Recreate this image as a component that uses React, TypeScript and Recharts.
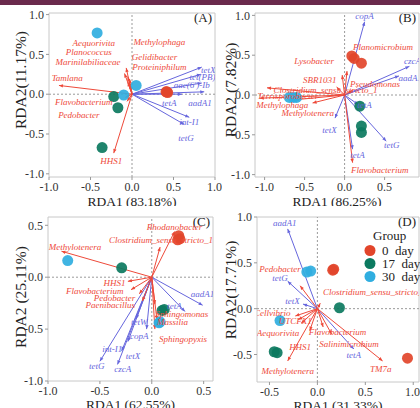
import React from 'react';
import { ScatterChart, Scatter, XAxis, YAxis, ReferenceLine, ReferenceArea, Legend } from 'recharts';

type Row = [string, number, number];
type Pt = { x: number; y: number };

// ---- panel A ----
const aDay0: Pt[] = [{ x: 0.41, y: 0.03 }, { x: 0.43, y: 0.02 }, { x: 0.42, y: 0.03 }];
const aDay17: Pt[] = [{ x: -0.22, y: -0.03 }, { x: -0.17, y: -0.17 }, { x: -0.36, y: -0.67 }];
const aDay30: Pt[] = [{ x: -0.42, y: 0.77 }, { x: -0.1, y: -0.01 }, { x: 0.05, y: 0.11 }];
const aTaxa: Row[] = [
  ['Aequorivita', -0.09, 0.26], ['Planococcus', -0.05, 0.22], ['Marinilabiliaceae', -0.07, 0.33],
  ['Tamlana', -0.88, 0.11], ['Flavobacterium', -0.08, -0.04], ['Pedobacter', -0.06, -0.09],
  ['Methylophaga', -0.03, 0.19], ['Gelidibacter', -0.05, 0.15], ['Proteiniphilum', -0.02, 0.12],
  ['HHS1', -0.22, -0.74],
];
const aTaxaLbl: Row[] = [
  ['Aequorivita', -0.46, 0.64], ['Planococcus', -0.52, 0.53], ['Marinilabiliaceae', -0.53, 0.4],
  ['Tamlana', -0.78, 0.2], ['Flavobacterium', -0.58, -0.1], ['Pedobacter', -0.64, -0.26],
  ['Methylophaga', 0.33, 0.65], ['Gelidibacter', 0.27, 0.47], ['Proteiniphilum', 0.33, 0.34],
  ['HHS1', -0.25, -0.84],
];
const aArgs: Row[] = [
  ['tetX', 0.84, 0.34], ['tet(PB)', 0.83, 0.25], ["aac(6')-Ib", 0.84, 0.14], ['tetA', 0.6, 0.0],
  ['aadA1', 0.87, 0.03], ['int-I1', 0.69, -0.29], ['tetG', 0.63, -0.38],
];
const aArgsLbl: Row[] = [
  ['tetX', 0.92, 0.3], ['tet(PB)', 0.85, 0.21], ["aac(6')-Ib", 0.72, 0.11], ['tetA', 0.45, -0.11],
  ['aadA1', 0.82, -0.11], ['int-I1', 0.69, -0.35], ['tetG', 0.65, -0.55],
];

// ---- panel B ----
const bDay0: Pt[] = [{ x: 0.09, y: 0.49 }, { x: 0.12, y: 0.46 }, { x: 0.21, y: 0.4 }];
const bDay17: Pt[] = [{ x: 0.19, y: -0.14 }, { x: 0.21, y: -0.39 }, { x: 0.21, y: -0.47 }];
const bDay30: Pt[] = [{ x: -0.69, y: -0.03 }, { x: -0.64, y: -0.03 }, { x: -0.6, y: -0.03 }];
const bTaxa: Row[] = [
  ['Planomicrobium', 0.03, 0.3], ['Lysobacter', -0.03, 0.25], ['SBR1031', -0.1, 0.1],
  ['Pseudomonas', 0.1, 0.06], ['Clostridium_sensu_stricto_1', -0.97, 0.09],
  ['Terrisporobacter', -1.06, -0.04], ['Methylophaga', -0.62, -0.06], ['Methylotenera', -0.4, -0.1],
  ['Flavobacterium', 0.1, -0.85],
];
const bTaxaLbl: Row[] = [
  ['Planomicrobium', 0.48, 0.6], ['Lysobacter', -0.38, 0.43], ['SBR1031', -0.31, 0.19],
  ['Pseudomonas', 0.38, 0.14], ['Clostridium_sensu_stricto_1', -0.24, 0.06],
  ['Terrisporobacter', -0.71, -0.01], ['Methylophaga', -0.78, -0.13], ['Methylotenera', -0.46, -0.23],
  ['Flavobacterium', 0.44, -0.94],
];
const bArgs: Row[] = [
  ['copA', 0.25, 0.92], ['czcA', 0.81, 0.36], ['aadA1', 0.68, 0.24], ['tetX', -0.12, -0.29],
  ['tetG', 0.52, -0.58], ['tetA', 0.1, -0.68], ['tetA', 0.17, -0.12],
];
const bArgsLbl: Row[] = [
  ['copA', 0.25, 0.99], ['czcA', 0.85, 0.43], ['aadA1', 0.82, 0.21], ['tetX', -0.19, -0.44],
  ['tetG', 0.59, -0.63], ['tetA', 0.16, -0.75], ['tetA', 0.25, -0.12],
];

// ---- panel C ----
const cDay0: Pt[] = [{ x: 0.26, y: 0.4 }, { x: 0.27, y: 0.37 }, { x: 0.25, y: 0.36 }];
const cDay17: Pt[] = [{ x: -0.29, y: 0.09 }, { x: 0.1, y: -0.32 }, { x: 0.12, y: -0.31 }];
const cDay30: Pt[] = [{ x: -0.81, y: 0.16 }, { x: 0.08, y: -0.43 }, { x: 0.07, y: -0.44 }];
const cTaxa: Row[] = [
  ['Methylotenera', -0.87, 0.25], ['Rhodanobacter', 0.22, 0.44], ['Clostridium_sensu_stricto_1', 0.08, 0.29],
  ['HHS1', -0.23, -0.04], ['Flavobacterium', -0.2, -0.12], ['Pedobacter', -0.12, -0.16],
  ['Paenibacillus', -0.09, -0.23], ['Sphingomonas', 0.03, -0.26], ['Massilia', 0.05, -0.41],
  ['Sphingopyxis', 0.03, -0.5],
];
const cTaxaLbl: Row[] = [
  ['Methylotenera', -0.74, 0.29], ['Rhodanobacter', 0.22, 0.48], ['Clostridium_sensu_stricto_1', 0.09, 0.36],
  ['HHS1', -0.36, -0.06], ['Flavobacterium', -0.55, -0.13], ['Pedobacter', -0.36, -0.2],
  ['Paenibacillus', -0.4, -0.27], ['Sphingomonas', 0.29, -0.35], ['Massilia', 0.2, -0.43],
  ['Sphingopyxis', 0.3, -0.6],
];
const cArgs: Row[] = [
  ['aadA1', 0.49, -0.27], ['tetA', 0.32, -0.33], ['tetW', -0.15, -0.4], ['copA', -0.05, -0.5],
  ['int-I1', -0.23, -0.62], ['tetX', -0.29, -0.71], ['tetG', -0.5, -0.81], ['czcA', -0.33, -0.84],
];
const cArgsLbl: Row[] = [
  ['aadA1', 0.49, -0.16], ['tetA', 0.22, -0.28], ['tetW', -0.12, -0.43], ['copA', -0.12, -0.57],
  ['int-I1', -0.38, -0.69], ['tetX', -0.18, -0.76], ['tetG', -0.53, -0.86], ['czcA', -0.28, -0.88],
];

// ---- panel D ----
const dDay0: Pt[] = [{ x: 0.17, y: 0.43 }, { x: 0.16, y: 0.42 }, { x: 0.94, y: -0.54 }];
const dDay17: Pt[] = [{ x: 0.23, y: 0.01 }, { x: -0.42, y: -0.48 }, { x: -0.45, y: -0.47 }];
const dDay30: Pt[] = [{ x: -0.07, y: 0.41 }, { x: -0.11, y: 0.4 }, { x: -0.39, y: -0.13 }];
const dTaxa: Row[] = [
  ['Pedobacter', -0.18, 0.25], ['Clostridium_sensu_stricto_1', 0.03, 0.06], ['Cellvibrio', -0.23, -0.08],
  ['UTCFX1', -0.2, -0.12], ['Aequorivita', -0.17, -0.16], ['Flavobacterium', 0.06, -0.2],
  ['Salinimicrobium', 0.15, -0.28], ['HHS1', -0.08, -0.24], ['Methylotenera', -0.31, -0.57],
  ['TM7a', 0.68, -0.57],
];
const dTaxaLbl: Row[] = [
  ['Pedobacter', -0.39, 0.43], ['Clostridium_sensu_stricto_1', 0.6, 0.18], ['Cellvibrio', -0.47, -0.05],
  ['UTCFX1', -0.23, -0.13], ['Aequorivita', -0.41, -0.27], ['Flavobacterium', 0.21, -0.25],
  ['Salinimicrobium', 0.33, -0.38], ['HHS1', -0.18, -0.42], ['Methylotenera', -0.31, -0.68],
  ['TM7a', 0.66, -0.66],
];
const dArgs: Row[] = [['aadA1', -0.31, 0.87], ['tetG', -0.31, 0.3], ['tetX', -0.15, 0.05], ['tetA', 0.38, -0.44]];
const dArgsLbl: Row[] = [['aadA1', -0.34, 0.93], ['tetG', -0.39, 0.33], ['tetX', -0.26, 0.08], ['tetA', 0.38, -0.51]];

const groups = ['0 day', '17 day', '30 day'];

const RED = '#ee4a3a';
const BLUE = '#6666dd';
const C0 = '#e2452b';
const C17 = '#0c7a60';
const C30 = '#30aee0';
const FONT = '"Liberation Serif", "Times New Roman", serif';

const toPts = (rows: Row[]) => rows.map(([name, x, y]) => ({ name, x, y }));

const arrowShape = (color: string) => (p: any) => {
  const { x1, y1, x2, y2 } = p;
  const a = Math.atan2(y2 - y1, x2 - x1);
  const L = 4;
  const W = 1.7;
  const bx = x2 - L * Math.cos(a);
  const by = y2 - L * Math.sin(a);
  const pts = `${x2},${y2} ${bx + W * Math.sin(a)},${by - W * Math.cos(a)} ${bx - W * Math.sin(a)},${by + W * Math.cos(a)}`;
  return (
    <g>
      <line x1={x1} y1={y1} x2={x2} y2={y2} stroke={color} strokeWidth={1} />
      <polygon points={pts} fill={color} />
    </g>
  );
};

const textShape = (color: string) => (p: any) => (
  <text x={p.cx} y={p.cy} fill={color} fontSize={9} fontStyle="italic" fontFamily={FONT}
    textAnchor="middle" dominantBaseline="central">{p.payload.name}</text>
);

const dot = (color: string) => (p: any) => <circle cx={p.cx} cy={p.cy} r={5.5} fill={color} fillOpacity={0.92} />;

const GroupLegend = () => (
  <div style={{ fontFamily: FONT, fontSize: 13, color: '#222', lineHeight: '13px' }}>
    <div style={{ marginLeft: 11, marginBottom: 2 }}>Group</div>
    {groups.map((g, i) => (
      <div key={g} style={{ display: 'flex', alignItems: 'center', height: 13 }}>
        <svg width={16} height={13}><circle cx={8} cy={6.5} r={5.5} fill={[C0, C17, C30][i]} /></svg>
        <span style={{ marginLeft: 4, whiteSpace: 'pre' }}>{g.replace(' ', '  ')}</span>
      </div>
    ))}
  </div>
);

interface PanelProps {
  tag: string;
  left: number; top: number; width: number; height: number;
  margin: { top: number; right: number; bottom: number; left: number };
  xAxisH: number;
  xDomain: [number, number]; yDomain: [number, number];
  xTicks: number[]; yTicks: number[];
  xLabel: string; yLabel: string; yLabelY: number; xLabelDy: number;
  day0: Pt[]; day17: Pt[]; day30: Pt[];
  taxa: Row[]; taxaLbl: Row[]; args: Row[]; argsLbl: Row[];
  legend?: boolean;
}

const Panel = (p: PanelProps) => {
  const tickStyle = { fontFamily: FONT, fontSize: 12, fill: '#333' };
  return (
    <div style={{ position: 'absolute', left: p.left, top: p.top }}>
      <ScatterChart width={p.width} height={p.height} margin={p.margin}>
        <XAxis type="number" dataKey="x" domain={p.xDomain} ticks={p.xTicks} allowDataOverflow
          height={p.xAxisH} tickSize={3} tickMargin={2} axisLine={false} stroke="#999" tick={tickStyle}
          tickFormatter={(v: number) => v.toFixed(1)}
          label={{
            content: (lp: any) => (
              <text x={lp.viewBox.x + lp.viewBox.width / 2} y={lp.viewBox.y + p.xLabelDy} textAnchor="middle"
                fontFamily={FONT} fontSize={13.5} fill="#222">{p.xLabel}</text>
            ),
          }} />
        <YAxis type="number" dataKey="y" domain={p.yDomain} ticks={p.yTicks} allowDataOverflow
          width={40} tickSize={3} tickMargin={2} axisLine={false} stroke="#999" tick={tickStyle}
          tickFormatter={(v: number) => v.toFixed(1)}
          label={{
            content: () => (
              <text x={20} y={p.yLabelY} transform={`rotate(-90 20 ${p.yLabelY})`} textAnchor="middle"
                dominantBaseline="central" fontFamily={FONT} fontSize={15.5} fill="#222">{p.yLabel}</text>
            ),
          }} />
        <ReferenceArea x1={p.xDomain[0]} x2={p.xDomain[1]} y1={p.yDomain[0]} y2={p.yDomain[1]}
          fill="none" stroke="#c8c8c8" strokeWidth={1}
          label={{
            content: (lp: any) => (
              <text x={lp.viewBox.x + lp.viewBox.width - 3} y={lp.viewBox.y + 9} textAnchor="end"
                fontFamily={FONT} fontSize={13} fill="#222">{p.tag}</text>
            ),
          }} />
        <ReferenceLine x={0} stroke="#9a9a9a" strokeDasharray="2 2" />
        <ReferenceLine y={0} stroke="#9a9a9a" strokeDasharray="2 2" />
        {p.args.map(([n, x, y], i) => (
          <ReferenceLine key={'b' + i} segment={[{ x: 0, y: 0 }, { x, y }]} ifOverflow="visible" shape={arrowShape(BLUE)} />
        ))}
        {p.taxa.map(([n, x, y], i) => (
          <ReferenceLine key={'r' + i} segment={[{ x: 0, y: 0 }, { x, y }]} ifOverflow="visible" shape={arrowShape(RED)} />
        ))}
        <Scatter name="0 day" data={p.day0} shape={dot(C0)} isAnimationActive={false} />
        <Scatter name="17 day" data={p.day17} shape={dot(C17)} isAnimationActive={false} />
        <Scatter name="30 day" data={p.day30} shape={dot(C30)} isAnimationActive={false} />
        <Scatter data={toPts(p.taxaLbl)} shape={textShape(RED)} isAnimationActive={false} />
        <Scatter data={toPts(p.argsLbl)} shape={textShape(BLUE)} isAnimationActive={false} />
        {p.legend && (
          <Legend layout="vertical" align="center" verticalAlign="middle" content={() => <GroupLegend />}
            wrapperStyle={{ left: 152, top: 25, width: 70 }} />
        )}
      </ScatterChart>
    </div>
  );
};

export default function App() {
  return (
    <div style={{ position: 'absolute', left: 0, top: 0, width: 420, height: 408, background: '#fff', overflow: 'hidden' }}>
      <div style={{ position: 'absolute', left: 0, top: 0, width: 420, height: 5, background: '#6a2a4c' }} />
      <Panel tag="(A)" left={0} top={0} width={222} height={206}
        margin={{ top: 13, right: 7, bottom: 0, left: 9 }} xAxisH={29}
        xDomain={[-1, 1]} yDomain={[-1.04, 1.02]} xTicks={[-1, -0.5, 0, 0.5, 1]} yTicks={[-1, -0.5, 0, 0.5, 1]}
        xLabel="RDA1 (83.18%)" yLabel="RDA2(11.17%)" yLabelY={80} xLabelDy={28.5}
        day0={aDay0} day17={aDay17} day30={aDay30} taxa={aTaxa} taxaLbl={aTaxaLbl} args={aArgs} argsLbl={aArgsLbl} />
      <Panel tag="(B)" left={210} top={0} width={210} height={206}
        margin={{ top: 13, right: 1, bottom: 0, left: 5 }} xAxisH={29}
        xDomain={[-1.12, 0.93]} yDomain={[-1.03, 1.03]} xTicks={[-1, -0.5, 0, 0.5]} yTicks={[-1, -0.5, 0, 0.5, 1]}
        xLabel="RDA1 (86.25%)" yLabel="RDA2 (7.82%)" yLabelY={90} xLabelDy={28.5}
        day0={bDay0} day17={bDay17} day30={bDay30} taxa={bTaxa} taxaLbl={bTaxaLbl} args={bArgs} argsLbl={bArgsLbl} />
      <Panel tag="(C)" left={0} top={204} width={218} height={204}
        margin={{ top: 13, right: 5, bottom: 0, left: 8 }} xAxisH={27}
        xDomain={[-1, 0.59]} yDomain={[-1, 0.58]} xTicks={[-1, -0.5, 0, 0.5]} yTicks={[-1, -0.5, 0, 0.5]}
        xLabel="RDA1 (62.55%)" yLabel="RDA2 (25.11%)" yLabelY={93} xLabelDy={27.5}
        day0={cDay0} day17={cDay17} day30={cDay30} taxa={cTaxa} taxaLbl={cTaxaLbl} args={cArgs} argsLbl={cArgsLbl} />
      <Panel tag="(D)" left={210} top={204} width={210} height={204}
        margin={{ top: 13, right: 1, bottom: 0, left: 7 }} xAxisH={26}
        xDomain={[-0.63, 1.06]} yDomain={[-0.8, 1.0]} xTicks={[-0.5, 0, 0.5, 1]} yTicks={[-0.5, 0, 0.5, 1]}
        xLabel="RDA1 (31.33%)" yLabel="RDA2(17.71%)" yLabelY={86} xLabelDy={27.5}
        day0={dDay0} day17={dDay17} day30={dDay30} taxa={dTaxa} taxaLbl={dTaxaLbl} args={dArgs} argsLbl={dArgsLbl}
        legend />
    </div>
  );
}
